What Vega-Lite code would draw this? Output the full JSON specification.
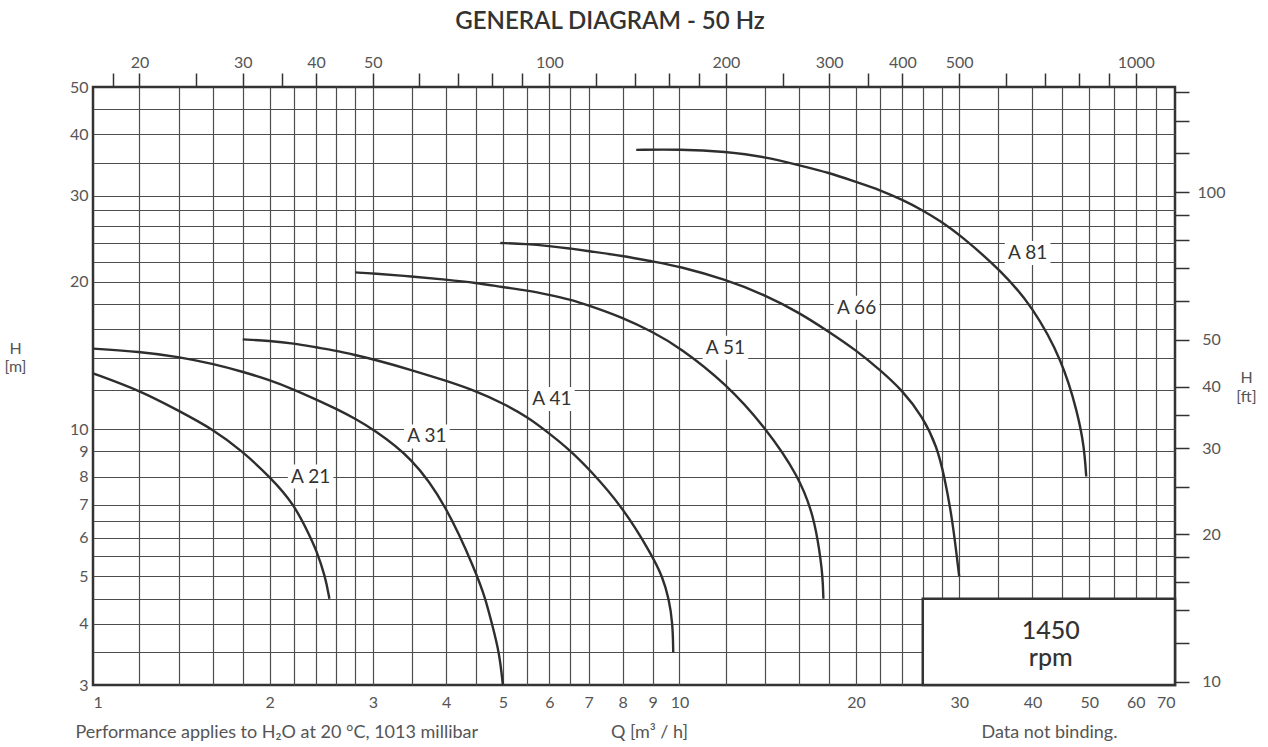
{
  "$schema": "https://vega.github.io/schema/vega-lite/v6.json",
  "width": 1082,
  "height": 598,
  "autosize": {"type": "none"},
  "padding": {"left": 93, "top": 87, "right": 93, "bottom": 62},
  "background": "white",
  "config": {
    "view": {"stroke": "#333333", "strokeWidth": 2.5},
    "font": "Lato",
    "axis": {"grid": false, "labelFont": "Lato", "titleFont": "Lato", "labelColor": "#555555", "titleColor": "#555555", "labelFontSize": 16, "titleFontSize": 18, "titleFontWeight": "normal"}
  },
  "title": {"text": "GENERAL DIAGRAM - 50 Hz", "fontSize": 24, "fontWeight": 600, "color": "#333333", "font": "Lato", "dx": -24, "offset": 20},
  "datasets": {
    "curves": [
      {"pump": "A 21", "Q": 1.0, "H": 13.0}, {"pump": "A 21", "Q": 1.2, "H": 12.0}, {"pump": "A 21", "Q": 1.4, "H": 10.9}, {"pump": "A 21", "Q": 1.6, "H": 10.0}, {"pump": "A 21", "Q": 1.8, "H": 9.0}, {"pump": "A 21", "Q": 2.0, "H": 8.0}, {"pump": "A 21", "Q": 2.2, "H": 7.05}, {"pump": "A 21", "Q": 2.35, "H": 6.0}, {"pump": "A 21", "Q": 2.4, "H": 5.68}, {"pump": "A 21", "Q": 2.49, "H": 5.0}, {"pump": "A 21", "Q": 2.53, "H": 4.5},
      {"pump": "A 31", "Q": 1.0, "H": 14.6}, {"pump": "A 31", "Q": 1.2, "H": 14.4}, {"pump": "A 31", "Q": 1.4, "H": 14.05}, {"pump": "A 31", "Q": 1.6, "H": 13.6}, {"pump": "A 31", "Q": 1.8, "H": 13.1}, {"pump": "A 31", "Q": 2.0, "H": 12.6}, {"pump": "A 31", "Q": 2.2, "H": 12.05}, {"pump": "A 31", "Q": 2.4, "H": 11.5}, {"pump": "A 31", "Q": 2.6, "H": 11.0}, {"pump": "A 31", "Q": 2.8, "H": 10.5}, {"pump": "A 31", "Q": 3.0, "H": 10.0}, {"pump": "A 31", "Q": 3.5, "H": 8.75}, {"pump": "A 31", "Q": 4.0, "H": 7.0}, {"pump": "A 31", "Q": 4.5, "H": 5.1}, {"pump": "A 31", "Q": 4.67, "H": 4.5}, {"pump": "A 31", "Q": 4.79, "H": 4.0}, {"pump": "A 31", "Q": 4.93, "H": 3.5}, {"pump": "A 31", "Q": 5.0, "H": 3.0},
      {"pump": "A 41", "Q": 1.8, "H": 15.25}, {"pump": "A 41", "Q": 2.0, "H": 15.15}, {"pump": "A 41", "Q": 2.2, "H": 14.97}, {"pump": "A 41", "Q": 2.4, "H": 14.69}, {"pump": "A 41", "Q": 2.6, "H": 14.46}, {"pump": "A 41", "Q": 2.8, "H": 14.17}, {"pump": "A 41", "Q": 3.0, "H": 13.9}, {"pump": "A 41", "Q": 3.5, "H": 13.2}, {"pump": "A 41", "Q": 4.0, "H": 12.55}, {"pump": "A 41", "Q": 4.5, "H": 11.96}, {"pump": "A 41", "Q": 5.0, "H": 11.29}, {"pump": "A 41", "Q": 5.5, "H": 10.6}, {"pump": "A 41", "Q": 6.0, "H": 9.8}, {"pump": "A 41", "Q": 6.5, "H": 9.06}, {"pump": "A 41", "Q": 7.0, "H": 8.31}, {"pump": "A 41", "Q": 8.0, "H": 6.94}, {"pump": "A 41", "Q": 9.0, "H": 5.5}, {"pump": "A 41", "Q": 9.35, "H": 5.0}, {"pump": "A 41", "Q": 9.6, "H": 4.5}, {"pump": "A 41", "Q": 9.74, "H": 4.0}, {"pump": "A 41", "Q": 9.76, "H": 3.5},
      {"pump": "A 51", "Q": 2.8, "H": 20.9}, {"pump": "A 51", "Q": 3.0, "H": 20.8}, {"pump": "A 51", "Q": 3.5, "H": 20.5}, {"pump": "A 51", "Q": 4.0, "H": 20.2}, {"pump": "A 51", "Q": 4.5, "H": 19.9}, {"pump": "A 51", "Q": 5.0, "H": 19.5}, {"pump": "A 51", "Q": 5.5, "H": 19.2}, {"pump": "A 51", "Q": 6.0, "H": 18.8}, {"pump": "A 51", "Q": 6.5, "H": 18.4}, {"pump": "A 51", "Q": 7.0, "H": 17.9}, {"pump": "A 51", "Q": 8.0, "H": 16.9}, {"pump": "A 51", "Q": 9.0, "H": 15.8}, {"pump": "A 51", "Q": 10.0, "H": 14.7}, {"pump": "A 51", "Q": 12.0, "H": 12.4}, {"pump": "A 51", "Q": 14.0, "H": 10.1}, {"pump": "A 51", "Q": 16.0, "H": 8.0}, {"pump": "A 51", "Q": 16.95, "H": 6.62}, {"pump": "A 51", "Q": 17.35, "H": 5.6}, {"pump": "A 51", "Q": 17.55, "H": 5.0}, {"pump": "A 51", "Q": 17.6, "H": 4.5},
      {"pump": "A 66", "Q": 4.95, "H": 24.0}, {"pump": "A 66", "Q": 5.5, "H": 23.9}, {"pump": "A 66", "Q": 6.0, "H": 23.66}, {"pump": "A 66", "Q": 6.5, "H": 23.4}, {"pump": "A 66", "Q": 7.0, "H": 23.1}, {"pump": "A 66", "Q": 8.0, "H": 22.6}, {"pump": "A 66", "Q": 9.0, "H": 22.0}, {"pump": "A 66", "Q": 10.0, "H": 21.5}, {"pump": "A 66", "Q": 12.0, "H": 20.2}, {"pump": "A 66", "Q": 14.0, "H": 18.8}, {"pump": "A 66", "Q": 16.0, "H": 17.3}, {"pump": "A 66", "Q": 18.0, "H": 15.8}, {"pump": "A 66", "Q": 20.0, "H": 14.5}, {"pump": "A 66", "Q": 22.0, "H": 13.2}, {"pump": "A 66", "Q": 24.0, "H": 12.0}, {"pump": "A 66", "Q": 26.0, "H": 10.6}, {"pump": "A 66", "Q": 27.5, "H": 9.2}, {"pump": "A 66", "Q": 28.3, "H": 8.0}, {"pump": "A 66", "Q": 29.2, "H": 6.57}, {"pump": "A 66", "Q": 30.0, "H": 5.0},
      {"pump": "A 81", "Q": 8.44, "H": 37.2}, {"pump": "A 81", "Q": 10.0, "H": 37.3}, {"pump": "A 81", "Q": 12.0, "H": 36.9}, {"pump": "A 81", "Q": 14.0, "H": 36.0}, {"pump": "A 81", "Q": 16.0, "H": 34.6}, {"pump": "A 81", "Q": 18.0, "H": 33.4}, {"pump": "A 81", "Q": 20.0, "H": 32.0}, {"pump": "A 81", "Q": 22.0, "H": 30.8}, {"pump": "A 81", "Q": 24.0, "H": 29.4}, {"pump": "A 81", "Q": 26.0, "H": 28.0}, {"pump": "A 81", "Q": 28.0, "H": 26.5}, {"pump": "A 81", "Q": 30.0, "H": 25.0}, {"pump": "A 81", "Q": 35.5, "H": 21.0}, {"pump": "A 81", "Q": 40.0, "H": 17.8}, {"pump": "A 81", "Q": 45.0, "H": 13.8}, {"pump": "A 81", "Q": 47.8, "H": 10.75}, {"pump": "A 81", "Q": 49.0, "H": 9.2}, {"pump": "A 81", "Q": 49.4, "H": 8.0}
    ],
    "labels": [
      {"label": "A 21", "Q": 2.35, "H": 8.0},
      {"label": "A 31", "Q": 3.71, "H": 9.66},
      {"label": "A 41", "Q": 6.06, "H": 11.52},
      {"label": "A 51", "Q": 11.98, "H": 14.67},
      {"label": "A 66", "Q": 20.05, "H": 17.7},
      {"label": "A 81", "Q": 39.25, "H": 22.9}
    ],
    "box": [{"Q1": 26, "Q2": 70, "H1": 3, "H2": 4.5}],
    "rpm": [
      {"text": "1450\nrpm", "Q": 42.96, "H": 3.86}
    ],
    "secondary": [
      {"Q_lmin": 16.667, "H_ft": 9.8425},
      {"Q_lmin": 1166.67, "H_ft": 164.04}
    ]
  },
  "layer": [
    {
      "data": {"name": "labels"},
      "mark": {"type": "point", "shape": "M-1.9,-1L1.9,-1L1.9,1L-1.9,1Z", "filled": true, "fill": "white", "opacity": 1, "size": 576, "strokeWidth": 0},
      "encoding": {
        "x": {"field": "Q", "type": "quantitative", "scale": {"type": "log", "domain": [1, 70], "nice": false, "zero": false},
          "axis": {"orient": "bottom", "values": [1.2,1.4,1.6,1.8,2,2.2,2.4,2.6,2.8,3,3.5,4,4.5,5,5.5,6,6.5,7,8,9,10,12,14,16,18,20,22,24,26,28,30,35,40,45,50,55,60,65],
            "grid": true, "gridColor": "#4d4d4d", "gridWidth": 1.2, "gridOpacity": 1, "labels": false, "ticks": false, "tickSize": 0, "domain": false,
            "title": "Performance applies to H₂O at 20 °C, 1013 millibar", "titleX": -18, "titleY": 52, "titleAlign": "left", "titleBaseline": "alphabetic"}},
        "y": {"field": "H", "type": "quantitative", "scale": {"type": "log", "domain": [3, 50], "nice": false, "zero": false},
          "axis": {"orient": "left", "values": [3.5,4,4.5,5,5.5,6,6.5,7,8,9,10,12,14,16,18,20,22,24,26,28,30,35,40,45],
            "grid": true, "gridColor": "#4d4d4d", "gridWidth": 1.2, "gridOpacity": 1, "labels": false, "ticks": false, "tickSize": 0, "domain": false, "title": null}}
      }
    },
    {
      "data": {"name": "curves"},
      "mark": {"type": "line", "interpolate": "basis", "stroke": "#2e2e2e", "strokeWidth": 2.4},
      "encoding": {
        "detail": {"field": "pump"},
        "x": {"field": "Q", "type": "quantitative", "scale": {"type": "log", "domain": [1, 70], "nice": false, "zero": false},
          "axis": {"orient": "bottom", "values": [1,2,3,4,5,6,7,8,9,10,20,30,40,50,60,70], "format": "d", "ticks": false, "tickSize": 0, "domain": false, "labelPadding": 9,
            "title": "Q [m³ / h]", "titleX": 556, "titleY": 52, "titleAlign": "center", "titleBaseline": "alphabetic"}},
        "y": {"field": "H", "type": "quantitative", "scale": {"type": "log", "domain": [3, 50], "nice": false, "zero": false},
          "axis": {"orient": "left", "values": [3,4,5,6,7,8,9,10,20,30,40,50], "format": "d", "ticks": false, "tickSize": 0, "domain": false, "labelPadding": 5,
            "title": ["H", "[m]"], "titleFontSize": 16, "titleAngle": 0, "titleX": -78, "titleY": 266, "titleAlign": "center", "titleBaseline": "alphabetic", "titleLineHeight": 18}}
      }
    },
    {
      "data": {"name": "labels"},
      "mark": {"type": "text", "fontSize": 19, "color": "#333333", "align": "center", "baseline": "middle", "font": "Lato"},
      "encoding": {
        "text": {"field": "label"},
        "x": {"field": "Q", "type": "quantitative", "scale": {"type": "log", "domain": [1, 70], "nice": false, "zero": false}, "axis": null},
        "y": {"field": "H", "type": "quantitative", "scale": {"type": "log", "domain": [3, 50], "nice": false, "zero": false}, "axis": null}
      }
    },
    {
      "data": {"name": "box"},
      "mark": {"type": "rect", "fill": "white", "stroke": "#333333", "strokeWidth": 2.5},
      "encoding": {
        "x": {"field": "Q1", "type": "quantitative", "scale": {"type": "log", "domain": [1, 70], "nice": false, "zero": false},
          "axis": {"orient": "bottom", "labels": false, "ticks": false, "tickSize": 0, "domain": false, "title": "Data not binding.", "titleX": 956, "titleY": 52, "titleAlign": "center", "titleBaseline": "alphabetic"}},
        "x2": {"field": "Q2"},
        "y": {"field": "H1", "type": "quantitative", "scale": {"type": "log", "domain": [3, 50], "nice": false, "zero": false}, "axis": null},
        "y2": {"field": "H2"}
      }
    },
    {
      "data": {"name": "rpm"},
      "mark": {"type": "text", "fontSize": 25, "lineHeight": 27, "lineBreak": "\n", "color": "#333333", "align": "center", "baseline": "middle", "font": "Lato", "fontWeight": 500},
      "encoding": {
        "text": {"field": "text"},
        "x": {"field": "Q", "type": "quantitative", "scale": {"type": "log", "domain": [1, 70], "nice": false, "zero": false}, "axis": null},
        "y": {"field": "H", "type": "quantitative", "scale": {"type": "log", "domain": [3, 50], "nice": false, "zero": false}, "axis": null}
      }
    },
    {
      "data": {"name": "secondary"},
      "mark": {"type": "point", "opacity": 0},
      "encoding": {
        "x": {"field": "Q_lmin", "type": "quantitative", "scale": {"type": "log", "domain": [16.667, 1166.67], "nice": false, "zero": false},
          "axis": {"orient": "top", "values": [18,20,25,30,35,40,50,60,70,80,90,100,120,140,160,180,200,250,300,350,400,500,600,700,800,900,1000], "format": "d",
            "labelExpr": "indexof([20,30,40,50,100,200,300,400,500,1000], datum.value) >= 0 ? datum.label : ''",
            "ticks": true, "tickSize": 14, "tickColor": "#333333", "tickWidth": 1.5, "domain": false, "labelPadding": 3, "title": null}},
        "y": {"field": "H_ft", "type": "quantitative", "scale": {"type": "log", "domain": [9.8425, 164.04], "nice": false, "zero": false},
          "axis": {"orient": "right", "values": [10,12,14,16,18,20,25,30,35,40,50,60,70,80,90,100,120,140,160], "format": "d",
            "labelExpr": "indexof([10,20,30,40,50,100], datum.value) >= 0 ? datum.label : ''",
            "ticks": true, "tickSize": 14, "tickColor": "#333333", "tickWidth": 1.5, "domain": false, "labelPadding": 22, "labelAlign": "center",
            "title": ["H", "[ft]"], "titleFontSize": 16, "titleAngle": 0, "titleX": 71, "titleY": 295, "titleAlign": "center", "titleBaseline": "alphabetic", "titleLineHeight": 19}}
      }
    }
  ],
  "resolve": {"scale": {"x": "independent", "y": "independent"}, "axis": {"x": "independent", "y": "independent"}}
}
